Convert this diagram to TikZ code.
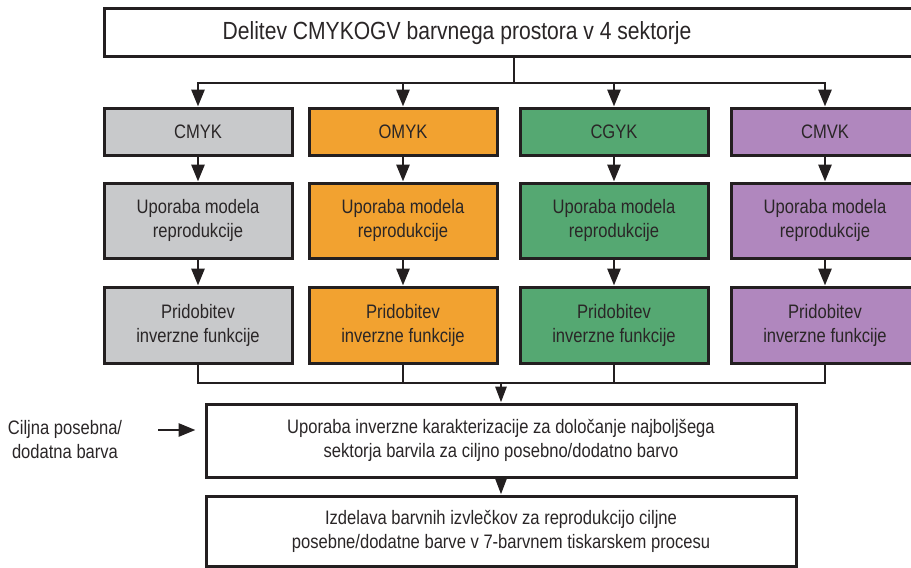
\documentclass[tikz,border=0pt]{standalone}
\usepackage{fontspec}
\setmainfont{Liberation Sans}[FakeStretch=0.85]
\usetikzlibrary{arrows.meta,calc}
\definecolor{linec}{HTML}{231F20}
\definecolor{txt}{HTML}{2A2627}
\definecolor{grayf}{HTML}{C8C9CB}
\definecolor{orangef}{HTML}{F2A230}
\definecolor{greenf}{HTML}{55A872}
\definecolor{purplef}{HTML}{B087BE}
\newcommand{\rowfont}{\fontsize{19.5}{24}\selectfont}
\newcommand{\titlefont}{\fontsize{24.8}{28}\selectfont}
\tikzset{
  box/.style={draw=linec, line width=3pt, minimum width=188pt, inner sep=0pt, align=center, font=\rowfont, text=txt},
  conn/.style={draw=linec, line width=2.9pt},
  arr/.style={conn, -{Triangle[length=17pt,width=13pt]}},
  arrs/.style={conn, -{Triangle[length=16pt,width=11pt]}},
  lbl/.style={font=\rowfont, text=txt, align=center, inner sep=0pt}
}
\begin{document}
\begin{tikzpicture}[x=1pt,y=-1pt]
\useasboundingbox (0,0) rectangle (911,568);
\clip (0,0) rectangle (911,568);
% top box
\node[box, minimum width=815pt, minimum height=48pt, fill=white] (top) at (511.5,32) {};
\node[lbl, font=\titlefont] (title) at (457,33) {Delitev CMYKOGV barvnega prostora v 4 sektorje};
% row 1
\node[box, fill=grayf,   minimum height=47pt] (g1) at (198,131.5) {CMYK};
\node[box, fill=orangef, minimum height=47pt] (o1) at (403,131.5) {OMYK};
\node[box, fill=greenf,  minimum height=47pt] (c1) at (614,131.5) {CGYK};
\node[box, fill=purplef, minimum height=47pt] (p1) at (825,131.5) {CMVK};
% row 2
\node[box, fill=grayf,   minimum height=75pt] (g2) at (198,220.5) {Uporaba modela\\reprodukcije};
\node[box, fill=orangef, minimum height=75pt] (o2) at (403,220.5) {Uporaba modela\\reprodukcije};
\node[box, fill=greenf,  minimum height=75pt] (c2) at (614,220.5) {Uporaba modela\\reprodukcije};
\node[box, fill=purplef, minimum height=75pt] (p2) at (825,220.5) {Uporaba modela\\reprodukcije};
% row 3
\node[box, fill=grayf,   minimum height=76pt] (g3) at (198,325) {Pridobitev\\inverzne funkcije};
\node[box, fill=orangef, minimum height=76pt] (o3) at (403,325) {Pridobitev\\inverzne funkcije};
\node[box, fill=greenf,  minimum height=76pt] (c3) at (614,325) {Pridobitev\\inverzne funkcije};
\node[box, fill=purplef, minimum height=76pt] (p3) at (825,325) {Pridobitev\\inverzne funkcije};
% lower boxes
\node[box, fill=white, minimum width=590pt, minimum height=73pt] (mid) at (501,440.5) {Uporaba inverzne karakterizacije za določanje najboljšega\\sektorja barvila za ciljno posebno/dodatno barvo};
\node[box, fill=white, minimum width=590pt, minimum height=70pt] (bot) at (501,531) {Izdelava barvnih izvlečkov za reprodukcijo ciljne\\posebne/dodatne barve v 7-barvnem tiskarskem procesu};
\node[lbl] (lab) at (65,440) {Ciljna posebna/\\dodatna barva};
% top distribution
\coordinate (bt) at (514,83);
\draw[conn] (top.south -| bt) -- (bt);
\draw[conn, line cap=rect] (g1.north |- bt) -- (p1.north |- bt);
\foreach \n in {g1,o1,c1,p1} \draw[arr] (\n.north |- bt) -- (\n.north);
% vertical arrows
\foreach \c in {g,o,c,p} {
  \draw[arr] (\c1.south) -- (\c2.north);
  \draw[arr] (\c2.south) -- (\c3.north);
}
% bottom collection
\coordinate (bb) at (501,383);
\foreach \n in {g3,o3,c3,p3} \draw[conn] (\n.south) -- (\n.south |- bb);
\draw[conn, line cap=rect] (g3.south |- bb) -- (p3.south |- bb);
\draw[arrs] (bb) -- (mid.north);
\draw[arrs] (mid.south) -- (bot.north);
% side input
\coordinate (la) at (158,430);
\draw[arr, shorten >=9pt] (la) -- (la -| mid.west);
\end{tikzpicture}
\end{document}
